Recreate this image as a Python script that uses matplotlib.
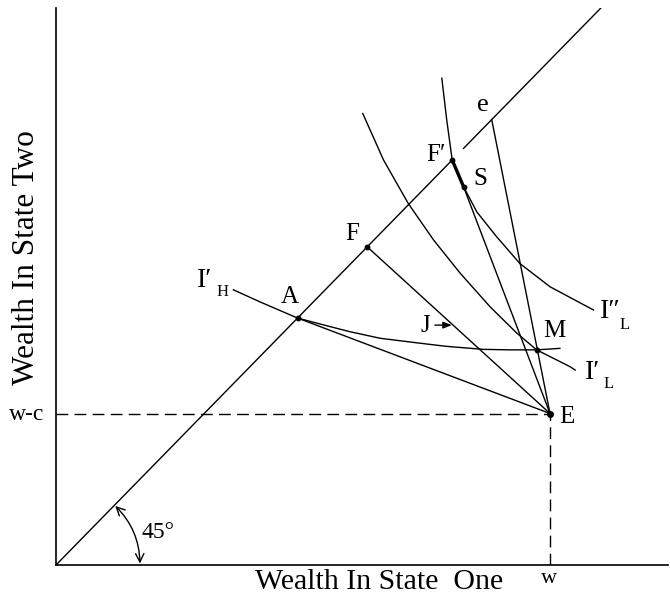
import matplotlib
matplotlib.use("Agg")
import matplotlib.pyplot as plt
from matplotlib.patches import FancyArrowPatch

plt.rcParams['font.family'] = ['Liberation Serif', 'DejaVu Serif']

# ---- data ----
w = 100.0
w_minus_c = 30.0
E = (100.0, 30.0)
A = (48.9, 48.9)
F = (63.0, 63.0)
Fp = (80.2, 80.2)
e_pt = (88.2, 88.2)
S = (82.5, 74.9)
M = (97.3, 42.6)
J_tip = (80.1, 47.5)
J_tail = (76.7, 47.5)
diag_end = 111.0
diag_gap_end = 82.5

IH_x = [35.9, 41.3, 48.9, 55.5, 59.5, 65.6, 73.0, 79.0, 86.5, 92.0, 97.3, 102.0]
IH_y = [54.5, 52.1, 48.9, 47.2, 46.2, 44.9, 44.0, 43.3, 42.7, 42.6, 42.6, 42.9]

IL1_x = [62.1, 66.3, 71.3, 76.4, 81.8, 87.9, 93.3, 97.3, 104.0, 105.1]
IL1_y = [89.4, 80.2, 71.6, 64.4, 57.8, 51.1, 45.9, 42.6, 39.3, 38.6]

IL2_x = [78.1, 79.1, 80.2, 82.5, 85.2, 89.2, 93.9, 100.0, 108.8]
IL2_y = [96.4, 88.1, 80.2, 74.9, 69.9, 65.0, 59.7, 55.1, 50.5]

fig = plt.figure(figsize=(6.7, 6.0), dpi=100)
ax = fig.add_axes([56/670, 35/600, 612/670, 557/600])
ax.set_xlim(0, 612/4.94)
ax.set_ylim(0, 557/5.05)
for s in ['top', 'right']:
    ax.spines[s].set_visible(False)
for s in ['left', 'bottom']:
    ax.spines[s].set_linewidth(1.2)
ax.set_xticks([])
ax.set_yticks([])

lw = 1.0
k = 'black'
# 45 degree line (with a small gap above F')
ax.plot([0, Fp[0]], [0, Fp[1]], color=k, lw=lw)
ax.plot([diag_gap_end, diag_end], [diag_gap_end, diag_end], color=k, lw=lw)

# dashed endowment lines
ax.plot([0, w], [w_minus_c, w_minus_c], color=k, lw=1.0, ls=(0, (8.5, 4.5)))
ax.plot([w, w], [0, w_minus_c], color=k, lw=1.0, ls=(0, (8.5, 4.5)))

# lines from E
for P in [A, F, S, e_pt]:
    ax.plot([E[0], P[0]], [E[1], P[1]], color=k, lw=lw)
# bold segment F'-S
ax.plot([Fp[0], S[0]], [Fp[1], S[1]], color=k, lw=2.4, solid_capstyle='round')

# indifference curves
ax.plot(IH_x, IH_y, color=k, lw=lw)
ax.plot(IL1_x, IL1_y, color=k, lw=lw)
ax.plot(IL2_x, IL2_y, color=k, lw=lw)

# points
for P in [A, F, Fp, S, M]:
    ax.plot(*P, 'o', color=k, ms=3.2)
ax.plot(*E, 'o', color=k, ms=4)

# J arrow
ax.annotate('', xy=J_tip, xytext=J_tail,
            arrowprops=dict(arrowstyle='-|>,head_length=0.5,head_width=0.2',
                            color=k, lw=1.0, shrinkA=0, shrinkB=0))

# 45 degree arc
arc = FancyArrowPatch((12.0, 11.7), (17.0, 0.3),
                      connectionstyle='arc3,rad=-0.2',
                      arrowstyle='<->,head_length=6,head_width=3',
                      color=k, lw=1.0, shrinkA=0, shrinkB=0)
ax.add_patch(arc)

fs = 18
ax.text(47.4, 53.0, 'A', fontsize=fs, ha='center', va='center')
ax.text(59.9, 65.5, 'F', fontsize=fs, ha='center', va='center')
ax.text(77.0, 81.1, 'F′', fontsize=fs, ha='center', va='center')
ax.text(85.8, 76.4, 'S', fontsize=fs, ha='center', va='center')
ax.text(86.5, 91.1, 'e', fontsize=19, ha='center', va='center')
ax.text(74.7, 47.3, 'J', fontsize=fs, ha='center', va='center')
ax.text(100.8, 46.3, 'M', fontsize=fs, ha='center', va='center')
ax.text(103.4, 29.3, 'E', fontsize=fs, ha='center', va='center')

# indifference curve labels (main letter + subscript)
ax.text(28.5, 56.4, 'I′', fontsize=20, ha='left', va='center')
ax.text(32.4, 54.0, 'H', fontsize=12, ha='left', va='center')
ax.text(110.1, 50.1, 'I″', fontsize=20, ha='left', va='center')
ax.text(114.0, 47.6, 'L', fontsize=12, ha='left', va='center')
ax.text(107.1, 38.2, 'I′', fontsize=20, ha='left', va='center')
ax.text(110.9, 35.8, 'L', fontsize=12, ha='left', va='center')

ax.text(99.8, -2.6, 'w', fontsize=16, ha='center', va='center', clip_on=False)
ax.text(-2.4, 29.8, 'w-c', fontsize=17, ha='right', va='center', clip_on=False)
ax.text(20.6, 6.5, '45°', fontsize=17, ha='center', va='center')
ax.text(65.4, -3.4, 'Wealth In State  One', fontsize=21.5, ha='center', va='center', clip_on=False)
ax.text(-5.9, 60.8, 'Wealth In State Two', fontsize=22.5, ha='center', va='center',
        rotation=90, clip_on=False)

fig.savefig('out.png', dpi=100)
